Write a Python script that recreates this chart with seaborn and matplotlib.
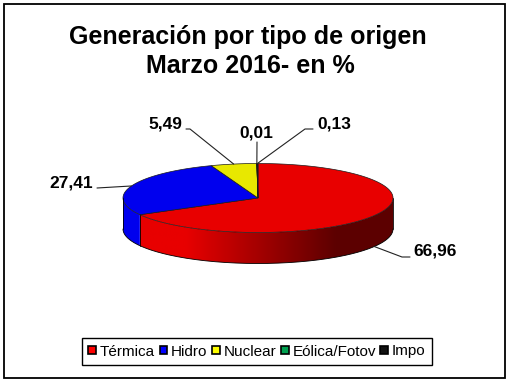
import numpy as np
import matplotlib.pyplot as plt
import seaborn as sns
from matplotlib.patches import Patch, Rectangle, Polygon
from matplotlib.colors import to_rgb

categorias = ['Térmica', 'Hidro', 'Nuclear', 'Eólica/Fotov', 'Impo']
porcentajes = [66.96, 27.41, 5.49, 0.01, 0.13]
etiquetas = ['66,96', '27,41', '5,49', '0,01', '0,13']
colores = ['#E80000', '#0000EE', '#E8E800', '#00A050', '#111111']

sns.set_theme(style='white')
plt.rcParams['font.family'] = ['Liberation Sans', 'DejaVu Sans']
plt.rcParams['text.color'] = 'black'

fig = plt.figure(figsize=(5.1, 3.83), dpi=100)
ax = fig.add_axes([0, 0, 1, 1])

# pie geometry (pixel units), tilted like the Excel 3D pie
cx, cy, rx, ry, depth = 258, 198, 135, 34.5, 31


def punto(theta, dy=0.0):
    t = np.radians(theta)
    return cx + rx * np.sin(t), cy - ry * np.cos(t) + dy


def sombra(x):
    # darker towards the right side, like the original gradient
    f = np.clip((x - 185) / (335 - 185), 0, 1)
    return 1 - 0.6 * f


frac = np.array(porcentajes) / sum(porcentajes) * 360
fin = np.cumsum(frac)
ini = fin - frac

# side walls (front half only: 90..270 degrees), gradient clipped to the wall
for a0, a1, col in zip(ini, fin, colores):
    lo, hi = max(a0, 90), min(a1, 270)
    if hi <= lo:
        continue
    angs = np.linspace(lo, hi, 200)
    tx_, ty_ = punto(angs)
    bx_, by_ = punto(angs[::-1], depth)
    verts = list(zip(tx_, ty_)) + list(zip(bx_, by_))
    pared = Polygon(verts, closed=True, facecolor='none', edgecolor='none')
    ax.add_patch(pared)
    x0, x1 = tx_.min(), tx_.max()
    xs = np.linspace(x0, x1, 300)
    grad = np.array(to_rgb(col))[None, None, :] * sombra(xs)[None, :, None]
    im = ax.imshow(grad, extent=(x0, x1, by_.max() + 1, ty_.min() - 1),
                   aspect='auto', interpolation='bilinear')
    im.set_clip_path(pared)

# side outlines
arco = np.linspace(90, 270, 200)
bx, by = punto(arco, depth)
ax.plot(bx, by, color='black', lw=0.6)
for a in [90, 270] + [a for a in fin if 90 < a < 270]:
    x0, y0 = punto(a)
    ax.plot([x0, x0], [y0, y0 + depth], color='black', lw=0.6)

# top face
for a0, a1, col in zip(ini, fin, colores):
    angs = np.linspace(a0, a1, max(int((a1 - a0) * 2), 2))
    px, py = punto(angs)
    verts = [(cx, cy)] + list(zip(px, py))
    ax.add_patch(Polygon(verts, closed=True, facecolor=col, edgecolor='#1a1a1a', lw=0.5))

# data labels with leader lines
medio = (ini + fin) / 2
ancla = []
for m in medio:
    if 90 < m < 270:
        ancla.append(punto(m, depth))
    else:
        ancla.append(punto(m))

pos_txt = [(413, 251, 'left'), (93, 183, 'right'), (182, 124, 'right'),
           (256, 133, 'center'), (317, 124, 'left')]
codo = [[(410, 257), (402, 257)], [(97, 188)], [(186, 129), (190, 129)],
        [(257, 142)], [(313, 129), (305, 129)]]

for (tx, ty, ha), pts, anc, lab in zip(pos_txt, codo, ancla, etiquetas):
    ax.text(tx, ty, lab, ha=ha, va='center', fontsize=12.5, weight='bold')
    xs = [p[0] for p in pts] + [anc[0]]
    ys = [p[1] for p in pts] + [anc[1]]
    ax.plot(xs, ys, color='#222222', lw=0.8)

# title
ax.text(248, 44, 'Generación por tipo de origen', ha='center', va='baseline',
        fontsize=18, weight='bold')
ax.text(250, 73, 'Marzo 2016- en %', ha='center', va='baseline',
        fontsize=18, weight='bold')

# outer frame
ax.add_patch(Rectangle((4.5, 3.5), 500.5, 374.5, fill=False, edgecolor='black', lw=1.3))

ax.set_xlim(0, 510)
ax.set_ylim(383, 0)
ax.axis('off')

handles = [Patch(facecolor=c, edgecolor='black', lw=1.2, label=n)
           for c, n in zip(['#FF0000', '#0000FF', '#FFFF00', '#00A050', '#111111'], categorias)]
leg = fig.legend(handles=handles, ncol=5, loc='center',
                 bbox_to_anchor=(257 / 510, 1 - 351.5 / 383), fontsize=11,
                 frameon=True, fancybox=False, edgecolor='black', framealpha=1,
                 handlelength=0.5, handleheight=0.5, handletextpad=0.25,
                 columnspacing=0.3, borderpad=0.4)
leg.get_frame().set_linewidth(1.0)

fig.savefig('out.png', dpi=100)
